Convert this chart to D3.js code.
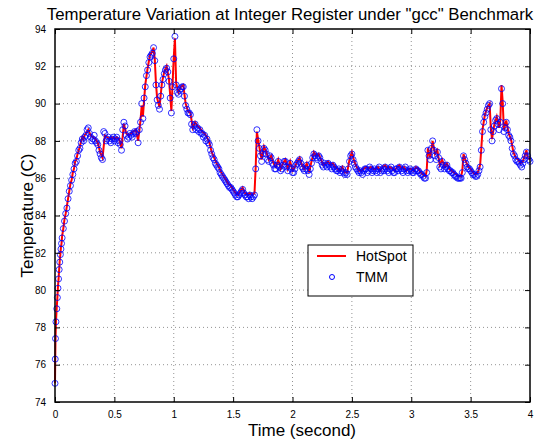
<!DOCTYPE html>
<html>
<head>
<meta charset="utf-8">
<script src="https://cdn.jsdelivr.net/npm/d3@7"></script>
<style>
  body { margin: 0; background: #fff; }
  svg text { font-family: "Liberation Sans", Arial, Helvetica, sans-serif; }
</style>
</head>
<body>
<script>
// HotSpot sample times (s)
var time = [0, 0.002, 0.004, 0.008, 0.015, 0.02, 0.025, 0.03, 0.035, 0.04, 0.045, 0.05, 0.055, 0.06, 0.07, 0.08, 0.09,
  0.10, 0.11, 0.12, 0.13, 0.14, 0.15, 0.16, 0.17, 0.18, 0.19, 0.20, 0.21, 0.22, 0.23, 0.24, 0.25,
  0.26, 0.28, 0.30, 0.32, 0.34, 0.36, 0.38, 0.40, 0.42, 0.44, 0.46, 0.48, 0.50, 0.52, 0.54, 0.56, 0.58,
  0.60, 0.62, 0.64, 0.66, 0.68, 0.70, 0.72, 0.73, 0.74, 0.76, 0.78, 0.80, 0.82, 0.83, 0.84, 0.85, 0.86, 0.88,
  0.90, 0.92, 0.94, 0.96, 0.98, 1.00, 1.01, 1.02, 1.04, 1.06, 1.08, 1.10, 1.12, 1.14, 1.16, 1.18,
  1.20, 1.22, 1.24, 1.26, 1.28, 1.30, 1.32, 1.34, 1.36, 1.38, 1.40, 1.42, 1.44, 1.46, 1.48,
  1.50, 1.52, 1.54, 1.56, 1.58, 1.60, 1.62, 1.64, 1.66, 1.68, 1.69, 1.70, 1.72, 1.74, 1.76, 1.78,
  1.80, 1.82, 1.84, 1.86, 1.88, 1.90, 1.92, 1.94, 1.96, 1.98,
  2.00, 2.02, 2.04, 2.06, 2.08, 2.10, 2.12, 2.14, 2.16, 2.18, 2.20, 2.22, 2.24, 2.26, 2.28,
  2.30, 2.32, 2.34, 2.36, 2.38, 2.40, 2.42, 2.44, 2.46, 2.48, 2.50, 2.52, 2.54, 2.56, 2.58,
  2.60, 2.62, 2.64, 2.66, 2.68, 2.70, 2.72, 2.74, 2.76, 2.78, 2.80, 2.82, 2.84, 2.86, 2.88,
  2.90, 2.92, 2.94, 2.96, 2.98, 3.00, 3.02, 3.04, 3.06, 3.08, 3.10, 3.12, 3.13, 3.14, 3.16, 3.18,
  3.20, 3.22, 3.24, 3.26, 3.28, 3.30, 3.32, 3.34, 3.36, 3.38, 3.40, 3.42, 3.43, 3.44, 3.46, 3.48,
  3.50, 3.52, 3.54, 3.56, 3.58, 3.59, 3.60, 3.62, 3.64, 3.66, 3.67, 3.68, 3.70, 3.72, 3.74, 3.75, 3.76, 3.77, 3.78,
  3.80, 3.82, 3.84, 3.86, 3.88, 3.90, 3.92, 3.94, 3.96, 3.97, 3.98, 4.00];

// HotSpot temperatures (C)
var hotspot = [75.0, 76.2, 77.3, 78.3, 79.1, 79.6, 80.2, 80.6, 81.1, 81.6, 81.9, 82.3, 82.5, 82.9, 83.3, 83.8, 84.1,
  84.5, 84.9, 85.3, 85.7, 85.9, 86.3, 86.5, 86.9, 87.0, 87.3, 87.5, 87.7, 88.0, 88.2, 88.1, 88.3,
  88.4, 88.6, 88.3, 88.2, 88.1, 87.9, 87.4, 87.1, 88.3, 88.2, 88.1, 88.2, 88.1, 88.2, 88.1, 87.6, 88.9,
  88.4, 88.3, 88.4, 88.5, 88.6, 88.0, 89.1, 89.9, 89.3, 91.0, 91.9, 92.6, 92.8, 93.0, 92.4, 91.1, 90.3, 89.8,
  91.1, 91.7, 92.0, 91.3, 89.6, 92.5, 93.5, 91.1, 90.6, 90.9, 91.0, 90.0, 89.6, 89.5, 88.7, 89.0,
  88.8, 88.7, 88.5, 88.4, 88.2, 87.9, 87.4, 87.1, 86.8, 86.6, 86.3, 86.1, 85.9, 85.7, 85.6,
  85.4, 85.2, 85.1, 85.3, 85.5, 85.2, 85.1, 85.2, 85.1, 85.2, 86.6, 88.5, 87.7, 87.0, 87.7, 87.4,
  87.0, 87.2, 86.8, 86.6, 87.0, 86.5, 86.8, 87.0, 86.5, 86.9,
  86.4, 86.6, 86.9, 87.1, 86.7, 86.5, 86.8, 86.3, 86.9, 87.4, 87.2, 87.3, 87.0, 86.7, 86.8,
  86.9, 86.7, 86.8, 86.6, 86.5, 86.4, 86.6, 86.3, 86.3, 87.0, 87.4, 86.9, 86.6, 86.4, 86.4,
  86.5, 86.6, 86.5, 86.6, 86.5, 86.5, 86.6, 86.4, 86.6, 86.7, 86.5, 86.6, 86.5, 86.4, 86.6,
  86.7, 86.5, 86.6, 86.4, 86.5, 86.5, 86.4, 86.6, 86.5, 86.3, 86.2, 86.1, 86.4, 87.6, 87.1, 88.0,
  87.3, 87.5, 86.7, 87.0, 86.6, 86.8, 86.5, 86.4, 86.3, 86.2, 86.1, 86.1, 86.4, 87.3, 86.9, 86.6,
  86.5, 86.3, 86.2, 86.3, 86.7, 87.6, 88.6, 89.4, 89.8, 90.0, 88.7, 88.1, 88.9, 89.3, 88.7, 89.1, 91.0, 90.1, 88.6,
  89.1, 88.4, 88.1, 87.4, 87.1, 87.0, 86.8, 86.9, 87.3, 87.5, 87.1, 87.0];

// TMM sample times (s)
var tmmTime = [0, 0.002, 0.004, 0.008, 0.015, 0.02, 0.025, 0.03, 0.035, 0.04, 0.045, 0.05, 0.055, 0.06, 0.07, 0.08, 0.09,
  0.10, 0.11, 0.12, 0.13, 0.14, 0.15, 0.16, 0.17, 0.18, 0.19, 0.20, 0.21, 0.22, 0.23, 0.24, 0.25,
  0.26, 0.27, 0.28, 0.29, 0.30,
  0.31, 0.32, 0.33, 0.34, 0.35, 0.36, 0.37, 0.38, 0.39, 0.40,
  0.41, 0.42, 0.43, 0.44, 0.45, 0.46, 0.47, 0.48, 0.49, 0.50,
  0.51, 0.52, 0.53, 0.54, 0.55, 0.56, 0.57, 0.58, 0.59, 0.60,
  0.61, 0.62, 0.63, 0.64, 0.65, 0.66, 0.67, 0.68, 0.69, 0.70,
  0.71, 0.72, 0.73, 0.74, 0.75, 0.76, 0.77, 0.78, 0.79, 0.80,
  0.81, 0.82, 0.83, 0.84, 0.85, 0.86, 0.87, 0.88, 0.89, 0.90,
  0.91, 0.92, 0.93, 0.94, 0.95, 0.96, 0.97, 0.98, 0.99, 1.00,
  1.01, 1.02, 1.03, 1.04, 1.05, 1.06, 1.07, 1.08, 1.09, 1.10,
  1.11, 1.12, 1.13, 1.14, 1.15, 1.16, 1.17, 1.18, 1.19, 1.20,
  1.21, 1.22, 1.23, 1.24, 1.25, 1.26, 1.27, 1.28, 1.29, 1.30,
  1.31, 1.32, 1.33, 1.34, 1.35, 1.36, 1.37, 1.38, 1.39, 1.40,
  1.41, 1.42, 1.43, 1.44, 1.45, 1.46, 1.47, 1.48, 1.49, 1.50,
  1.51, 1.52, 1.53, 1.54, 1.55, 1.56, 1.57, 1.58, 1.59, 1.60,
  1.61, 1.62, 1.63, 1.64, 1.65, 1.66, 1.67, 1.68, 1.69, 1.70,
  1.71, 1.72, 1.73, 1.74, 1.75, 1.76, 1.77, 1.78, 1.79, 1.80,
  1.81, 1.82, 1.83, 1.84, 1.85, 1.86, 1.87, 1.88, 1.89, 1.90,
  1.91, 1.92, 1.93, 1.94, 1.95, 1.96, 1.97, 1.98, 1.99, 2.00,
  2.01, 2.02, 2.03, 2.04, 2.05, 2.06, 2.07, 2.08, 2.09, 2.10,
  2.11, 2.12, 2.13, 2.14, 2.15, 2.16, 2.17, 2.18, 2.19, 2.20,
  2.21, 2.22, 2.23, 2.24, 2.25, 2.26, 2.27, 2.28, 2.29, 2.30,
  2.31, 2.32, 2.33, 2.34, 2.35, 2.36, 2.37, 2.38, 2.39, 2.40,
  2.41, 2.42, 2.43, 2.44, 2.45, 2.46, 2.47, 2.48, 2.49, 2.50,
  2.51, 2.52, 2.53, 2.54, 2.55, 2.56, 2.57, 2.58, 2.59, 2.60,
  2.61, 2.62, 2.63, 2.64, 2.65, 2.66, 2.67, 2.68, 2.69, 2.70,
  2.71, 2.72, 2.73, 2.74, 2.75, 2.76, 2.77, 2.78, 2.79, 2.80,
  2.81, 2.82, 2.83, 2.84, 2.85, 2.86, 2.87, 2.88, 2.89, 2.90,
  2.91, 2.92, 2.93, 2.94, 2.95, 2.96, 2.97, 2.98, 2.99, 3.00,
  3.01, 3.02, 3.03, 3.04, 3.05, 3.06, 3.07, 3.08, 3.09, 3.10,
  3.11, 3.12, 3.13, 3.14, 3.15, 3.16, 3.17, 3.18, 3.19, 3.20,
  3.21, 3.22, 3.23, 3.24, 3.25, 3.26, 3.27, 3.28, 3.29, 3.30,
  3.31, 3.32, 3.33, 3.34, 3.35, 3.36, 3.37, 3.38, 3.39, 3.40,
  3.41, 3.42, 3.43, 3.44, 3.45, 3.46, 3.47, 3.48, 3.49, 3.50,
  3.51, 3.52, 3.53, 3.54, 3.55, 3.56, 3.57, 3.58, 3.59, 3.60,
  3.61, 3.62, 3.63, 3.64, 3.65, 3.66, 3.67, 3.68, 3.69, 3.70,
  3.71, 3.72, 3.73, 3.74, 3.75, 3.76, 3.77, 3.78, 3.79, 3.80,
  3.81, 3.82, 3.83, 3.84, 3.85, 3.86, 3.87, 3.88, 3.89, 3.90,
  3.91, 3.92, 3.93, 3.94, 3.95, 3.96, 3.97, 3.98, 3.99, 4.00];

// TMM temperatures (C)
var tmm = [75.0, 76.3, 77.4, 78.3, 79.0, 79.6, 80.1, 80.6, 81.1, 81.5, 81.9, 82.2, 82.5, 82.8, 83.3, 83.7, 84.1,
  84.4, 84.9, 85.3, 85.6, 85.9, 86.2, 86.5, 86.8, 86.9, 87.2, 87.5, 87.6, 87.9, 88.1, 88.0, 88.2,
  88.3, 88.6, 88.7, 88.4, 88.2,
  88.0, 88.1, 88.3, 88.0, 87.9, 87.8, 87.5, 87.3, 87.1, 87.0,
  88.5, 88.4, 88.0, 88.1, 88.2, 88.0, 87.9, 88.1, 88.2, 88.0,
  88.1, 88.2, 87.9, 88.0, 87.8, 87.5, 88.6, 89.0, 88.8, 88.3,
  88.1, 88.2, 88.4, 88.3, 88.2, 88.4, 88.5, 88.4, 88.5, 87.9,
  88.6, 89.0, 90.0, 89.2, 90.3, 90.9, 91.5, 91.8, 92.2, 92.5,
  92.6, 92.7, 93.0, 92.3, 91.0, 90.2, 89.9, 89.7, 90.4, 91.0,
  91.3, 91.6, 91.8, 91.9, 91.7, 91.2, 90.3, 89.5, 90.9, 92.4,
  93.6, 91.0, 90.6, 90.5, 90.7, 90.8, 90.9, 90.9, 90.4, 89.9,
  89.7, 89.5, 89.5, 89.4, 88.9, 88.6, 88.8, 88.9, 88.6, 88.7,
  88.5, 88.6, 88.4, 88.4, 88.2, 88.3, 88.0, 88.1, 87.9, 87.8,
  87.5, 87.3, 87.1, 87.0, 86.8, 86.7, 86.6, 86.5, 86.3, 86.2,
  86.1, 86.0, 85.9, 85.8, 85.7, 85.6, 85.5, 85.5, 85.4, 85.3,
  85.2, 85.1, 85.0, 85.0, 85.1, 85.2, 85.3, 85.4, 85.2, 85.1,
  85.0, 85.0, 84.9, 85.1, 85.0, 84.9, 85.0, 85.1, 86.5, 88.6,
  88.0, 87.6, 87.2, 86.9, 87.3, 87.6, 87.5, 87.3, 87.0, 86.9,
  87.2, 87.1, 86.8, 86.7, 86.5, 86.5, 86.7, 86.9, 86.6, 86.4,
  86.5, 86.7, 86.9, 86.9, 86.6, 86.4, 86.6, 86.8, 86.5, 86.3,
  86.3, 86.5, 86.7, 86.8, 86.9, 87.0, 86.8, 86.6, 86.5, 86.4,
  86.5, 86.7, 86.4, 86.2, 86.5, 86.8, 87.1, 87.3, 87.2, 87.1,
  87.0, 87.2, 87.1, 86.9, 86.7, 86.6, 86.8, 86.7, 86.6, 86.8,
  86.7, 86.6, 86.5, 86.7, 86.6, 86.5, 86.4, 86.4, 86.5, 86.3,
  86.4, 86.5, 86.3, 86.2, 86.3, 86.2, 86.5, 86.9, 87.2, 87.3,
  87.0, 86.8, 86.6, 86.5, 86.4, 86.3, 86.4, 86.3, 86.2, 86.4,
  86.5, 86.5, 86.3, 86.4, 86.6, 86.5, 86.3, 86.4, 86.5, 86.4,
  86.3, 86.5, 86.6, 86.3, 86.4, 86.5, 86.4, 86.6, 86.5, 86.4,
  86.3, 86.5, 86.6, 86.4, 86.3, 86.3, 86.5, 86.5, 86.4, 86.6,
  86.5, 86.4, 86.3, 86.5, 86.6, 86.4, 86.3, 86.4, 86.5, 86.4,
  86.3, 86.3, 86.4, 86.5, 86.4, 86.4, 86.3, 86.2, 86.2, 86.1,
  86.0, 86.0, 86.3, 87.5, 87.2, 87.0, 87.6, 88.0, 87.5, 87.2,
  87.0, 87.4, 87.1, 86.6, 86.5, 86.9, 86.7, 86.5, 86.6, 86.7,
  86.5, 86.4, 86.4, 86.3, 86.3, 86.2, 86.1, 86.1, 86.0, 86.0,
  86.0, 86.0, 86.3, 87.2, 87.0, 86.8, 86.6, 86.5, 86.5, 86.4,
  86.3, 86.2, 86.2, 86.1, 86.1, 86.2, 86.4, 86.6, 87.5, 88.5,
  89.0, 89.3, 89.5, 89.7, 89.9, 90.0, 88.6, 88.0, 88.5, 88.8,
  89.1, 89.2, 88.9, 88.6, 89.0, 90.8, 90.0, 88.5, 88.7, 89.0,
  88.6, 88.3, 88.2, 88.0, 87.6, 87.3, 87.2, 87.0, 86.9, 86.9,
  86.8, 86.7, 86.6, 86.8, 87.0, 87.2, 87.4, 87.2, 87.0, 86.9];

var xTicks = [0, 0.5, 1, 1.5, 2, 2.5, 3, 3.5, 4];
var yTicks = [74, 76, 78, 80, 82, 84, 86, 88, 90, 92, 94];

var margin = {top: 29, right: 28, bottom: 43, left: 55},
    width = 558 - margin.left - margin.right,
    height = 445 - margin.top - margin.bottom;

var svg = d3.select("body").append("svg")
    .attr("width", 558)
    .attr("height", 445);

var g = svg.append("g")
    .attr("transform", "translate(" + margin.left + "," + margin.top + ")");

var x = d3.scaleLinear().domain([0, 4]).range([0, width]);
var y = d3.scaleLinear().domain([74, 94]).range([height, 0]);

// dotted grid
g.append("g").selectAll("line")
    .data(xTicks.slice(1, -1))
  .enter().append("line")
    .attr("x1", function(d) { return x(d); })
    .attr("x2", function(d) { return x(d); })
    .attr("y1", 0).attr("y2", height)
    .attr("stroke", "#777").attr("stroke-width", 0.8)
    .attr("stroke-dasharray", "1,3");

g.append("g").selectAll("line")
    .data(yTicks.slice(1, -1))
  .enter().append("line")
    .attr("y1", function(d) { return y(d); })
    .attr("y2", function(d) { return y(d); })
    .attr("x1", 0).attr("x2", width)
    .attr("stroke", "#777").attr("stroke-width", 0.8)
    .attr("stroke-dasharray", "1,3");

// HotSpot line
var line = d3.line()
    .x(function(d, i) { return x(time[i]); })
    .y(function(d) { return y(d); });

g.append("path")
    .datum(hotspot)
    .attr("fill", "none")
    .attr("stroke", "#ff0000")
    .attr("stroke-width", 2)
    .attr("d", line);

// TMM circles
g.append("g").selectAll("circle")
    .data(tmm)
  .enter().append("circle")
    .attr("cx", function(d, i) { return x(tmmTime[i]); })
    .attr("cy", function(d) { return y(d); })
    .attr("r", 3)
    .attr("fill", "none")
    .attr("stroke", "#0000ff")
    .attr("stroke-opacity", 0.8)
    .attr("stroke-width", 1);

// axes, ticks inward on all four sides
function styleAxis(sel) {
  sel.select(".domain").remove();
  sel.selectAll(".tick line").attr("stroke", "#000").attr("stroke-width", 1);
  sel.selectAll("text").attr("fill", "#000").style("font-size", "10px");
}

g.append("g")
    .attr("transform", "translate(0," + height + ")")
    .call(d3.axisBottom(x).tickValues(xTicks).tickSizeInner(-5).tickSizeOuter(0).tickPadding(9)
      .tickFormat(function(d) { return d; }))
    .call(styleAxis);

g.append("g")
    .call(d3.axisLeft(y).tickValues(yTicks).tickSizeInner(-5).tickSizeOuter(0).tickPadding(9))
    .call(styleAxis);

g.append("g")
    .call(d3.axisTop(x).tickValues(xTicks).tickSizeInner(-5).tickSizeOuter(0).tickFormat(""))
    .call(styleAxis);

g.append("g")
    .attr("transform", "translate(" + width + ",0)")
    .call(d3.axisRight(y).tickValues(yTicks).tickSizeInner(-5).tickSizeOuter(0).tickFormat(""))
    .call(styleAxis);

g.append("rect")
    .attr("width", width).attr("height", height)
    .attr("fill", "none")
    .attr("stroke", "#000").attr("stroke-width", 1.5);

// titles
svg.append("text")
    .attr("x", 290).attr("y", 20)
    .attr("text-anchor", "middle")
    .style("font-size", "16.8px")
    .text("Temperature Variation at Integer Register under \"gcc\" Benchmark");

svg.append("text")
    .attr("x", 302).attr("y", 436)
    .attr("text-anchor", "middle")
    .style("font-size", "17px")
    .text("Time (second)");

svg.append("text")
    .attr("transform", "translate(33," + (margin.top + height / 2) + ") rotate(-90)")
    .attr("text-anchor", "middle")
    .style("font-size", "17px")
    .text("Temperature (C)");

// legend
var lg = svg.append("g").attr("transform", "translate(308,245)");
lg.append("rect")
    .attr("width", 105).attr("height", 51)
    .attr("fill", "#fff").attr("stroke", "#000").attr("stroke-width", 1);
lg.append("line")
    .attr("x1", 9).attr("x2", 38).attr("y1", 11).attr("y2", 11)
    .attr("stroke", "#ff0000").attr("stroke-width", 2);
lg.append("circle")
    .attr("cx", 24).attr("cy", 32).attr("r", 2.5)
    .attr("fill", "none").attr("stroke", "#0000ff").attr("stroke-width", 1);
lg.append("text").attr("x", 48).attr("y", 16).style("font-size", "14px").text("HotSpot");
lg.append("text").attr("x", 48).attr("y", 37).style("font-size", "14px").text("TMM");
</script>
</body>
</html>
